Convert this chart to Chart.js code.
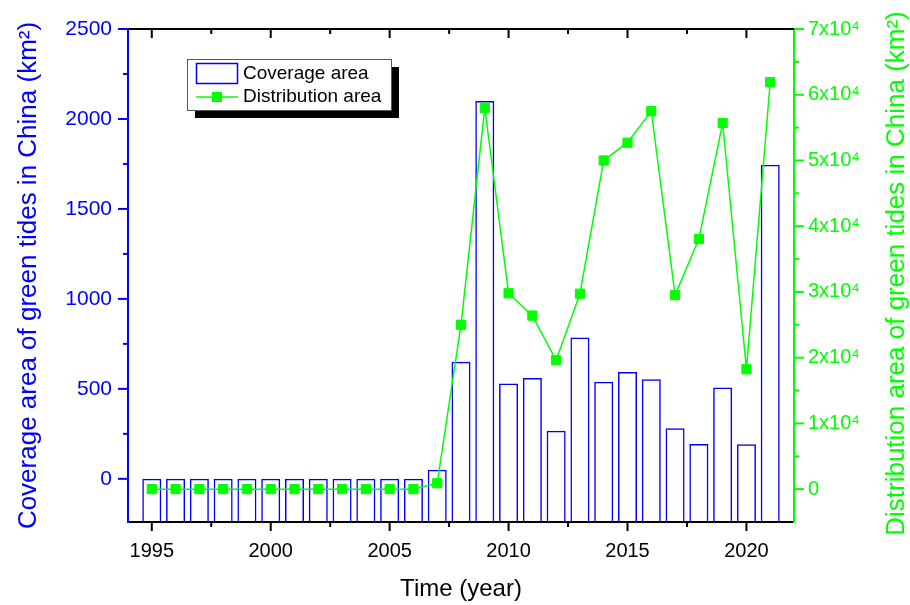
<!DOCTYPE html>
<html>
<head>
<meta charset="utf-8">
<script src="https://cdn.jsdelivr.net/npm/chart.js@4.4.0/dist/chart.umd.min.js"></script>
<style>
  body { margin: 0; background: #fff; }
</style>
</head>
<body>
<canvas id="myChart" width="910" height="605"></canvas>
<script>
// data
let years = [1995, 1996, 1997, 1998, 1999, 2000, 2001, 2002, 2003, 2004, 2005, 2006, 2007,
             2008, 2009, 2010, 2011, 2012, 2013, 2014, 2015, 2016, 2017, 2018, 2019, 2020, 2021];
let coverageArea = [0, 0, 0, 0, 0, 0, 0, 0, 0, 0, 0, 0, 50,
                    650, 2100, 530, 560, 267, 785, 540, 594, 554, 281, 193, 508, 192, 1746];
let distributionArea = [0, 0, 0, 0, 0, 0, 0, 0, 0, 0, 0, 0, 900,
                        25000, 58000, 29800, 26400, 19610, 29733, 50000, 52700, 57500, 29522, 38046, 55699, 18237, 61898];

let xTicks = [1995, 2000, 2005, 2010, 2015, 2020];
let yTicks = [0, 500, 1000, 1500, 2000, 2500];
let y2Ticks = [0, 10000, 20000, 30000, 40000, 50000, 60000, 70000];

let blue = "#0000ff";
let green = "#00ff00";
let fontName = "'Liberation Sans', Arial, sans-serif";
let rightTitle = "Distribution area of green tides in China (km\u00b2)";

function supPower(v) {
    if (v === 0) return "0";
    return (v / 10000) + "x10\u2074";
}

// major + minor tick marks, the top frame line, right axis title
const axisTicks = {
    id: "axisTicks",
    afterDraw(chart) {
        let ctx = chart.ctx;
        let area = chart.chartArea;
        let sx = chart.scales.x, sy = chart.scales.y, sy2 = chart.scales.y2;
        ctx.save();
        ctx.lineWidth = 2;

        function seg(x1, y1, x2, y2) {
            ctx.beginPath();
            ctx.moveTo(x1, y1);
            ctx.lineTo(x2, y2);
            ctx.stroke();
        }

        ctx.strokeStyle = "#000";
        seg(area.left, area.top, area.right, area.top);
        for (let i = 0; i < xTicks.length; i++) {
            let px = sx.getPixelForValue(xTicks[i]);
            seg(px, area.bottom, px, area.bottom + 9);
            seg(px, area.top, px, area.top + 9);
            let m = xTicks[i] + 2.5;
            if (m < sx.max) {
                let mx = sx.getPixelForValue(m);
                seg(mx, area.bottom, mx, area.bottom + 5);
                seg(mx, area.top, mx, area.top + 5);
            }
        }

        ctx.strokeStyle = blue;
        for (let i = 0; i < yTicks.length; i++) {
            let py = sy.getPixelForValue(yTicks[i]);
            seg(area.left - 10, py, area.left, py);
            let m = yTicks[i] + 250;
            if (m < sy.max) {
                let my = sy.getPixelForValue(m);
                seg(area.left - 5, my, area.left, my);
            }
        }

        ctx.strokeStyle = green;
        for (let i = 0; i < y2Ticks.length; i++) {
            let py = sy2.getPixelForValue(y2Ticks[i]);
            seg(area.right, py, area.right + 10, py);
            let m = y2Ticks[i] + 5000;
            if (m < sy2.max) {
                let my = sy2.getPixelForValue(m);
                seg(area.right, my, area.right + 5, my);
            }
        }

        // right title reads bottom-to-top like the left one
        ctx.translate(sy2.right - 13, (area.top + area.bottom) / 2 - 2);
        ctx.rotate(-Math.PI / 2);
        ctx.fillStyle = green;
        ctx.font = "26px " + fontName;
        ctx.textAlign = "center";
        ctx.textBaseline = "middle";
        ctx.fillText(rightTitle, 0, 0);
        ctx.restore();
    }
};

// framed legend with a drop shadow
const boxLegend = {
    id: "boxLegend",
    afterDraw(chart) {
        let ctx = chart.ctx;
        let bars = chart.data.datasets[0];
        let line = chart.data.datasets[1];
        let left = 187, top = 59, w = 204, h = 51;
        ctx.save();
        ctx.fillStyle = "#000";
        ctx.fillRect(left + 8, top + 8, w, h);
        ctx.fillStyle = "#fff";
        ctx.fillRect(left, top, w, h);
        ctx.strokeStyle = "#555";
        ctx.lineWidth = 1;
        ctx.strokeRect(left + 0.5, top + 0.5, w, h);

        ctx.strokeStyle = bars.borderColor;
        ctx.lineWidth = 1.5;
        ctx.strokeRect(196.5, 63.5, 41, 20);

        ctx.strokeStyle = line.borderColor;
        ctx.lineWidth = 1.5;
        ctx.beginPath();
        ctx.moveTo(196, 97);
        ctx.lineTo(238, 97);
        ctx.stroke();
        ctx.fillStyle = line.pointBackgroundColor;
        ctx.fillRect(212, 92, 10, 10);

        ctx.fillStyle = "#000";
        ctx.font = "19px " + fontName;
        ctx.textBaseline = "middle";
        ctx.fillText(bars.label, 243, 74);
        ctx.fillText(line.label, 243, 97);
        ctx.restore();
    }
};

function buildChart() {
    let barPoints = [];
    let linePoints = [];
    for (let i = 0; i < years.length; i++) {
        barPoints.push({ x: years[i], y: coverageArea[i] });
        linePoints.push({ x: years[i], y: distributionArea[i] });
    }

    new Chart("myChart", {
        type: "bar",
        data: {
            datasets: [{
                type: "bar",
                label: "Coverage area",
                data: barPoints,
                yAxisID: "y",
                base: -240,
                backgroundColor: "rgba(255,255,255,0)",
                borderColor: blue,
                borderWidth: 1.5,
                barPercentage: 0.8,
                categoryPercentage: 1,
                order: 2
            }, {
                type: "line",
                label: "Distribution area",
                data: linePoints,
                yAxisID: "y2",
                borderColor: green,
                borderWidth: 1.5,
                pointStyle: "rect",
                pointRadius: 6.5,
                pointBackgroundColor: green,
                pointBorderColor: green,
                pointBorderWidth: 1,
                tension: 0,
                order: 1
            }]
        },
        options: {
            responsive: false,
            animation: false,
            devicePixelRatio: 1,
            layout: { padding: { top: 29, left: 0, right: 0, bottom: 0 } },
            plugins: {
                legend: { display: false },
                tooltip: { enabled: false }
            },
            scales: {
                x: {
                    type: "linear",
                    min: 1994,
                    max: 2022,
                    offset: false,
                    grid: { display: false },
                    border: { display: true, color: "#000", width: 2 },
                    afterBuildTicks: (s) => { s.ticks = xTicks.map(v => ({ value: v })); },
                    afterFit: (s) => { s.height = 83; },
                    ticks: {
                        color: "#000",
                        font: { family: fontName, size: 20 },
                        padding: 9,
                        maxRotation: 0,
                        callback: (v) => String(v)
                    },
                    title: {
                        display: true,
                        text: "Time (year)",
                        color: "#000",
                        font: { family: fontName, size: 24 },
                        padding: { top: 0, bottom: 1 }
                    }
                },
                y: {
                    position: "left",
                    min: -240,
                    max: 2500,
                    grid: { display: false },
                    border: { display: true, color: blue, width: 2 },
                    afterBuildTicks: (s) => { s.ticks = yTicks.map(v => ({ value: v })); },
                    afterFit: (s) => { s.width = 128; },
                    ticks: {
                        color: blue,
                        font: { family: fontName, size: 21 },
                        padding: 8,
                        callback: (v) => String(v)
                    },
                    title: {
                        display: true,
                        text: "Coverage area of green tides in China (km\u00b2)",
                        color: blue,
                        font: { family: fontName, size: 26 },
                        padding: { top: 13, bottom: 0 }
                    }
                },
                y2: {
                    position: "right",
                    min: -5000,
                    max: 70000,
                    grid: { display: false },
                    border: { display: true, color: green, width: 2 },
                    afterBuildTicks: (s) => { s.ticks = y2Ticks.map(v => ({ value: v })); },
                    afterFit: (s) => { s.width = 116; },
                    ticks: {
                        color: green,
                        font: { family: fontName, size: 20 },
                        padding: 6,
                        callback: (v) => supPower(v)
                    }
                }
            }
        },
        plugins: [axisTicks, boxLegend]
    });
}

buildChart();
</script>
</body>
</html>
